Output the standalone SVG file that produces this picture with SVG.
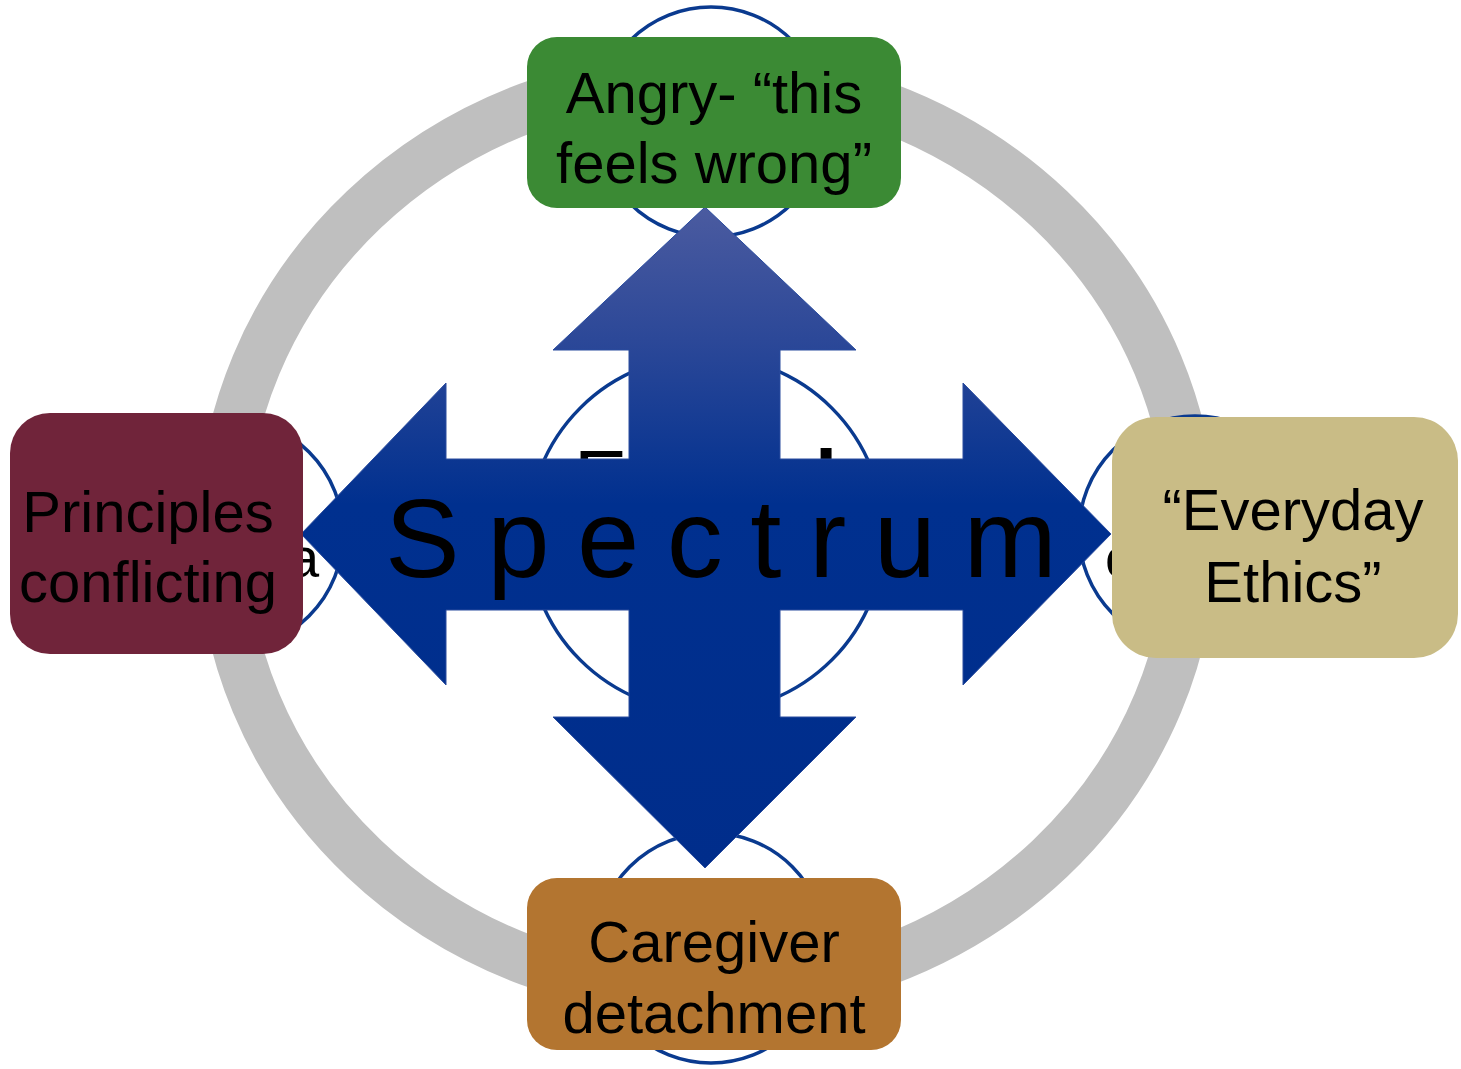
<svg xmlns="http://www.w3.org/2000/svg" width="1461" height="1069" viewBox="0 0 1461 1069">
<defs>
<style>
.ring{fill:none;stroke:#bfbfbf;stroke-width:50}
.circ{fill:#ffffff;stroke:#0a3a8f;stroke-width:3.5}
.lbl{font-family:"Liberation Sans",Arial,sans-serif;font-size:58px;fill:#000;text-anchor:middle}
.hid{font-family:"Liberation Sans",Arial,sans-serif;fill:#000}
.spec{font-family:"Liberation Sans",Arial,sans-serif;font-size:112px;fill:#000;letter-spacing:27.5px}
</style>
<linearGradient id="arrGrad" gradientUnits="userSpaceOnUse" x1="0" y1="207" x2="0" y2="868">
<stop offset="0" stop-color="#4b5ba0"/>
<stop offset="0.2" stop-color="#2c4898"/>
<stop offset="0.45" stop-color="#00308f"/>
<stop offset="1" stop-color="#002d8b"/>
</linearGradient>
<clipPath id="aboveBar"><rect x="520" y="400" width="400" height="59"/></clipPath>
</defs>
<rect width="1461" height="1069" fill="#ffffff"/>
<g id="ring">
<ellipse class="ring" cx="707" cy="534" rx="485" ry="459"/>
</g>
<g id="circles">
<circle class="circ" cx="711" cy="122" r="115"/>
<circle class="circ" cx="711" cy="948" r="115"/>
<circle class="circ" cx="227" cy="534" r="116"/>
<circle class="circ" cx="1195" cy="532" r="116"/>
<circle class="circ" cx="706" cy="534" r="178"/>
</g>
<g id="hidden-text">
<g clip-path="url(#aboveBar)">
<text class="hid" font-size="80" x="574" y="506">E</text>
<text class="hid" font-size="80" font-weight="bold" x="815" y="506">l</text>
</g>
<text class="hid" font-size="56" x="288" y="577">a</text>
<text class="hid" font-size="56" x="1105" y="577">c</text>
</g>
<g id="connectors">
<polygon points="705,207 856,350 780,350 780,459 963,459 963,383 1111,534 963,685 963,610 780,610 780,717 856,717 705,868 553,717 629,717 629,610 446,610 446,685 301,534 446,383 446,459 629,459 629,350 553,350" fill="url(#arrGrad)" stroke="#2a4c9e" stroke-width="1"/>
<text class="spec" x="385" y="577">Spectrum</text>
</g>
<g id="node-top">
<rect x="527" y="37" width="374" height="171" rx="30" fill="#3b8a34"/>
<text class="lbl" x="714" y="113">Angry- “this</text>
<text class="lbl" x="714" y="183">feels wrong”</text>
</g>
<g id="node-left">
<rect x="10" y="413" width="293" height="241" rx="40" fill="#70243a"/>
<text class="lbl" x="148" y="532">Principles</text>
<text class="lbl" x="148" y="602">conflicting</text>
</g>
<g id="node-right">
<rect x="1112" y="417" width="346" height="241" rx="44" fill="#c9bc86"/>
<text class="lbl" x="1293" y="530">“Everyday</text>
<text class="lbl" x="1293" y="602">Ethics”</text>
</g>
<g id="node-bottom">
<rect x="527" y="878" width="374" height="172" rx="30" fill="#b37530"/>
<text class="lbl" x="714" y="962">Caregiver</text>
<text class="lbl" x="714" y="1033">detachment</text>
</g>
</svg>
